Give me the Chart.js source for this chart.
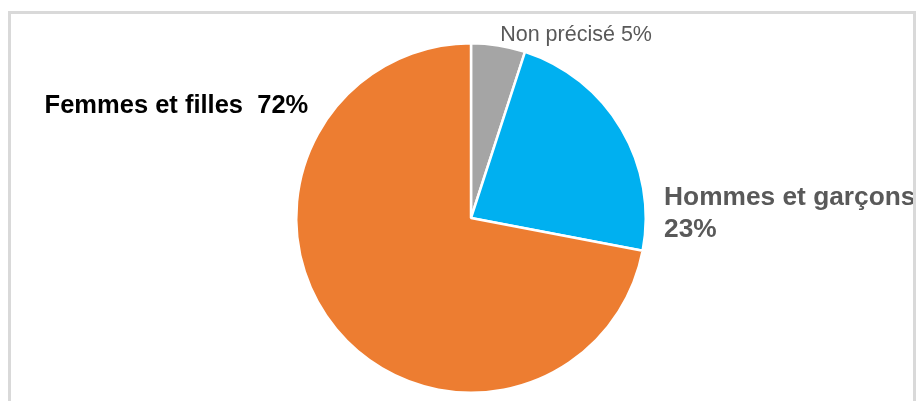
<!DOCTYPE html>
<html>
<head>
<meta charset="utf-8">
<style>
  html, body { margin: 0; padding: 0; background: #ffffff; }
  #wrap { position: relative; width: 917px; height: 401px; }
  canvas { display: block; }
</style>
<script src="https://cdn.jsdelivr.net/npm/chart.js@4.4.1/dist/chart.umd.min.js"></script>
</head>
<body>
<div id="wrap"><canvas id="c" width="917" height="401"></canvas></div>
<script>
// ---- data ----
const categories = ["Non précisé", "Hommes et garçons", "Femmes et filles"];
const values = [5, 23, 72];
const sliceColors = ["#A5A5A5", "#00B0F0", "#ED7D31"];
const labelColors = ["#595959", "#595959", "#000000"];

// label placement (in units of the pie radius, relative to pie centre)
const labelStyle = [
  { font: "21.5px 'Liberation Sans', Arial, sans-serif", align: "left", dx: 0.167, dy: [-1.011], lines: (n, v) => [n + " " + v + "%"] },
  { font: "bold 26.3px 'Liberation Sans', Arial, sans-serif", align: "left", dx: 1.105, dy: [-0.075, 0.109], lines: (n, v) => [n, v + "%"] },
  { font: "bold 25.5px 'Liberation Sans', Arial, sans-serif", align: "left", dx: -2.44, dy: [-0.598], lines: (n, v) => [n + "  " + v + "%"] }
];

const framePlugin = {
  id: "frame",
  beforeDraw(chart) {
    const ctx = chart.ctx;
    ctx.save();
    ctx.fillStyle = "#ffffff";
    ctx.fillRect(0, 0, chart.width, chart.height);
    ctx.strokeStyle = "#D9D9D9";
    ctx.lineWidth = 3;
    ctx.beginPath();
    ctx.moveTo(9.5, chart.height + 5);
    ctx.lineTo(9.5, 12.5);
    ctx.lineTo(914.5, 12.5);
    ctx.lineTo(914.5, chart.height + 5);
    ctx.stroke();
    ctx.restore();
  }
};

const labelPlugin = {
  id: "pieLabels",
  afterDatasetsDraw(chart) {
    const ctx = chart.ctx;
    const arcs = chart.getDatasetMeta(0).data;
    if (!arcs.length) return;
    const cx = arcs[0].x, cy = arcs[0].y, r = arcs[0].outerRadius;
    ctx.save();
    ctx.beginPath();
    ctx.rect(11, 14, 902, chart.height);
    ctx.clip();
    ctx.textBaseline = "alphabetic";
    categories.forEach((name, i) => {
      const s = labelStyle[i];
      ctx.font = s.font;
      ctx.fillStyle = labelColors[i];
      ctx.textAlign = s.align;
      const lines = s.lines(name, values[i]);
      lines.forEach((t, k) => {
        ctx.fillText(t, cx + s.dx * r, cy + s.dy[k] * r);
      });
    });
    ctx.restore();
  }
};

new Chart(document.getElementById("c"), {
  type: "pie",
  data: {
    labels: categories,
    datasets: [{
      data: values,
      backgroundColor: sliceColors,
      borderColor: "#ffffff",
      borderWidth: 2.5,
      hoverOffset: 0,
      offset: 0
    }]
  },
  options: {
    responsive: false,
    animation: false,
    events: [],
    layout: { padding: { left: 295, right: 270, top: 42, bottom: 7 } },
    plugins: { legend: { display: false }, tooltip: { enabled: false } }
  },
  plugins: [framePlugin, labelPlugin]
});
</script>
</body>
</html>
